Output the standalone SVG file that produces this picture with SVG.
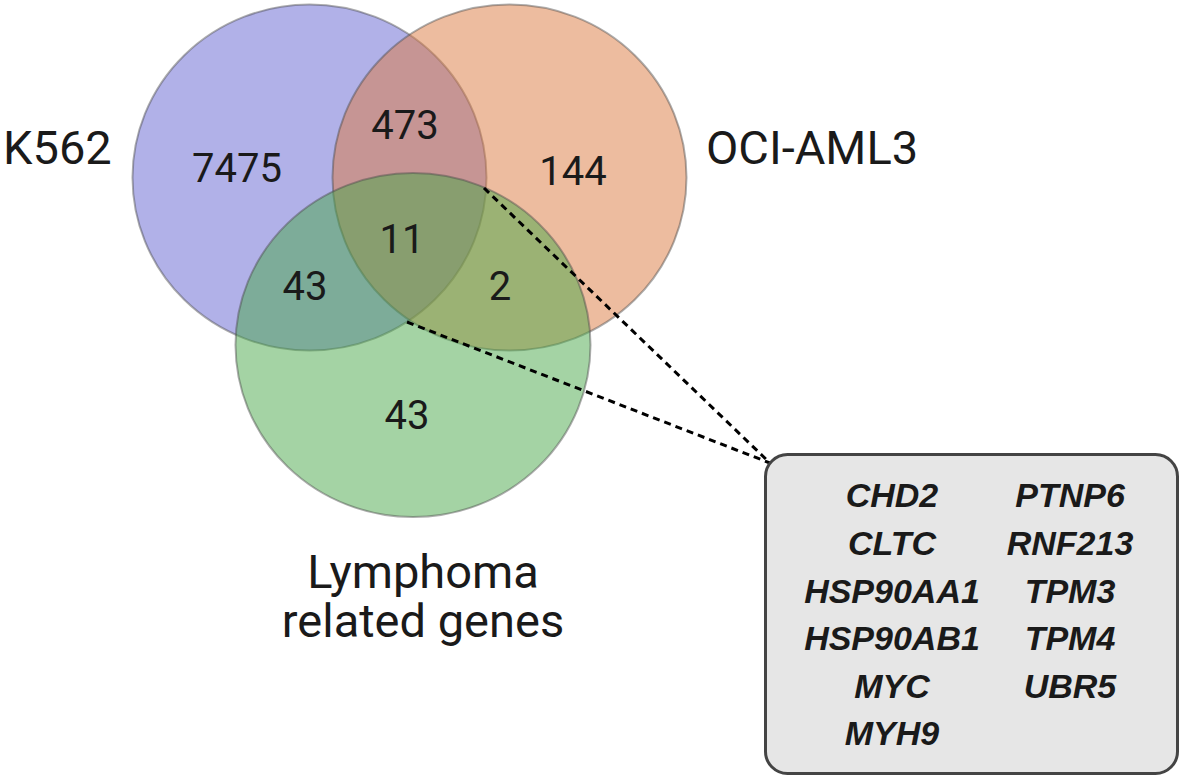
<svg xmlns="http://www.w3.org/2000/svg" width="1181" height="777" viewBox="0 0 1181 777">
<style>
.set{stroke:#4a4a4a;stroke-opacity:0.45;stroke-width:2}
.num{font-family:Roboto,"Liberation Sans",sans-serif;font-size:40px;fill:#1a1a1a;text-anchor:middle}
.lbl{font-family:Roboto,"Liberation Sans",sans-serif;font-size:47px;fill:#1a1a1a}
.gene{font-family:"Liberation Sans",Arial,sans-serif;font-size:34px;font-weight:bold;font-style:italic;fill:#1a1a1a;text-anchor:middle}
.dash{stroke:#000;stroke-width:3;stroke-dasharray:7 5;fill:none}
</style>
<rect width="1181" height="777" fill="#fff"/>
<g id="k562">
<ellipse class="set" cx="309.5" cy="177.5" rx="177" ry="173" fill="#6464d2" fill-opacity="0.5"/>
<text class="lbl" x="3" y="164">K562</text>
</g>
<g id="oci-aml3">
<ellipse class="set" cx="509.5" cy="177.5" rx="177" ry="173" fill="#dc7a40" fill-opacity="0.5"/>
<text class="lbl" x="706" y="164">OCI-AML3</text>
</g>
<g id="lymphoma">
<ellipse class="set" cx="413" cy="345" rx="177.5" ry="172" fill="#4aa84a" fill-opacity="0.5"/>
<text class="lbl" x="423" y="588" text-anchor="middle">Lymphoma</text>
<text class="lbl" x="423" y="637" text-anchor="middle">related genes</text>
</g>
<g id="counts">
<text class="num" x="237" y="182">7475</text>
<text class="num" x="405" y="139">473</text>
<text class="num" x="573" y="185">144</text>
<text class="num" x="402" y="253">11</text>
<text class="num" x="305" y="300">43</text>
<text class="num" x="500" y="300">2</text>
<text class="num" x="407" y="429">43</text>
</g>
<g id="connectors">
<path class="dash" d="M484 188 L770 463"/>
<path class="dash" d="M407 322 L770 463"/>
</g>
<g id="gene-box">
<rect x="765.5" y="454.5" width="412" height="319" rx="22" fill="#e6e6e6" stroke="#444" stroke-width="3"/>
<text class="gene" x="892" y="507">CHD2</text>
<text class="gene" x="892" y="555">CLTC</text>
<text class="gene" x="892" y="603">HSP90AA1</text>
<text class="gene" x="892" y="650">HSP90AB1</text>
<text class="gene" x="892" y="698">MYC</text>
<text class="gene" x="892" y="745">MYH9</text>
<text class="gene" x="1070" y="507">PTNP6</text>
<text class="gene" x="1070" y="555">RNF213</text>
<text class="gene" x="1070" y="603">TPM3</text>
<text class="gene" x="1070" y="650">TPM4</text>
<text class="gene" x="1070" y="698">UBR5</text>
</g>
</svg>
